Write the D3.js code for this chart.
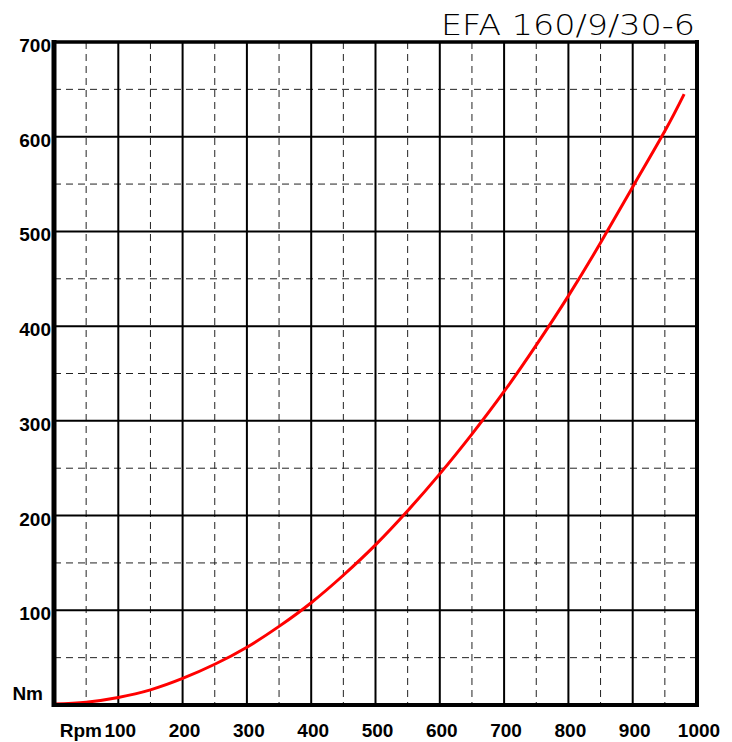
<!DOCTYPE html>
<html>
<head>
<meta charset="utf-8">
<script src="https://cdn.jsdelivr.net/npm/d3@7"></script>
<style>
html,body{margin:0;padding:0;background:#fff;}
svg{display:block;}
</style>
</head>
<body>
<svg id="chart" width="732" height="742"></svg>
<script>
// ---- data ----
const title = "EFA 160/9/30-6";
const rpm = [0, 50, 100, 150, 200, 250, 300, 350, 400, 450, 500, 550, 600, 650, 700, 750, 800, 850, 900, 950, 980];
const torque = [1, 3, 8, 16, 28, 43, 61, 83, 108, 137, 169, 205, 244, 286, 331, 380, 432, 488, 547, 606, 645];
const xTickLabels = [100, 200, 300, 400, 500, 600, 700, 800, 900, 1000];
const yTickLabels = [100, 200, 300, 400, 500, 600, 700];
const xUnit = "Rpm";
const yUnit = "Nm";

// ---- layout ----
const svg = d3.select("#chart");
const L = 54, R = 697, T = 42, B = 705;
const x = d3.scaleLinear().domain([0, 1000]).range([L, R]);
const y = d3.scaleLinear().domain([0, 700]).range([B, T]);

// dashed minor grid
const minorX = d3.range(50, 1000, 100);
const minorY = d3.range(50, 700, 100);
svg.append("g").selectAll("line").data(minorX).join("line")
  .attr("x1", d => x(d)).attr("x2", d => x(d)).attr("y1", T).attr("y2", B)
  .attr("stroke", "#222").attr("stroke-width", 1).attr("stroke-dasharray", "7,5");
svg.append("g").selectAll("line").data(minorY).join("line")
  .attr("y1", d => y(d)).attr("y2", d => y(d)).attr("x1", L).attr("x2", R)
  .attr("stroke", "#222").attr("stroke-width", 1).attr("stroke-dasharray", "7,5");

// solid major grid
svg.append("g").selectAll("line").data(xTickLabels.filter(d => d < 1000)).join("line")
  .attr("x1", d => x(d)).attr("x2", d => x(d)).attr("y1", T).attr("y2", B)
  .attr("stroke", "#000").attr("stroke-width", 2);
svg.append("g").selectAll("line").data(yTickLabels.filter(d => d < 700)).join("line")
  .attr("y1", d => y(d)).attr("y2", d => y(d)).attr("x1", L).attr("x2", R)
  .attr("stroke", "#000").attr("stroke-width", 2);

// curve
const line = d3.line().x((d, i) => x(rpm[i])).y(d => y(d)).curve(d3.curveNatural);
svg.append("path").datum(torque).attr("d", line)
  .attr("fill", "none").attr("stroke", "#ff0000").attr("stroke-width", 3);

// frame
svg.append("line").attr("x1", L).attr("x2", L).attr("y1", T - 2).attr("y2", B + 2).attr("stroke", "#000").attr("stroke-width", 5);
svg.append("line").attr("x1", R).attr("x2", R).attr("y1", T - 2).attr("y2", B + 2).attr("stroke", "#000").attr("stroke-width", 4);
svg.append("line").attr("x1", L - 2).attr("x2", R + 2).attr("y1", B).attr("y2", B).attr("stroke", "#000").attr("stroke-width", 4);
svg.append("line").attr("x1", L - 2).attr("x2", R + 2).attr("y1", T).attr("y2", T).attr("stroke", "#000").attr("stroke-width", 3.5);

// axis labels
const font = "'Liberation Sans', Arial, sans-serif";
svg.append("g").selectAll("text").data(xTickLabels).join("text")
  .attr("x", d => x(d) + 2).attr("y", 737)
  .attr("text-anchor", "middle").attr("font-family", font).attr("font-weight", "bold")
  .attr("font-size", 19).text(d => d);
svg.append("text").attr("x", 102).attr("y", 737).attr("text-anchor", "end")
  .attr("font-family", font).attr("font-weight", "bold").attr("font-size", 19).text(xUnit);

svg.append("g").selectAll("text").data(yTickLabels).join("text")
  .attr("x", 51).attr("y", d => y(d) + 10)
  .attr("text-anchor", "end").attr("font-family", font).attr("font-weight", "bold")
  .attr("font-size", 19).text(d => d);
svg.append("text").attr("x", 43).attr("y", 700).attr("text-anchor", "end")
  .attr("font-family", font).attr("font-weight", "bold").attr("font-size", 19).text(yUnit);

// title
svg.append("text").attr("x", 695).attr("y", 35).attr("text-anchor", "end")
  .attr("font-family", "'DejaVu Sans', sans-serif").attr("font-weight", 300)
  .attr("font-size", 29).attr("textLength", 254).attr("lengthAdjust", "spacingAndGlyphs")
  .attr("fill", "#000").text(title);
</script>
</body>
</html>
